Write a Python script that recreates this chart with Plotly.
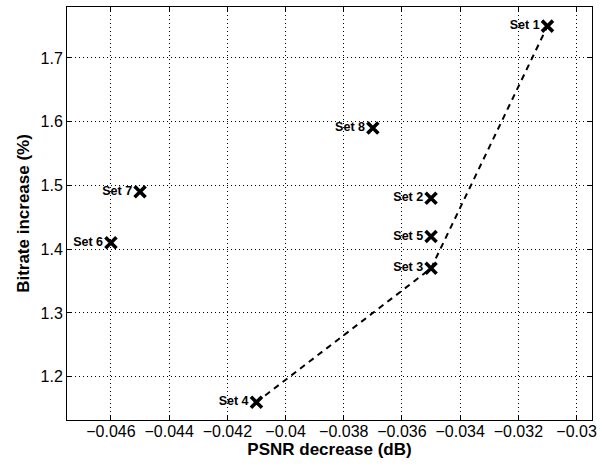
import plotly.graph_objects as go

labels = ["Set 1", "Set 2", "Set 3", "Set 4", "Set 5", "Set 6", "Set 7", "Set 8"]
psnr = [-0.031, -0.035, -0.035, -0.041, -0.035, -0.046, -0.045, -0.037]
bitrate = [1.75, 1.48, 1.37, 1.16, 1.42, 1.41, 1.49, 1.59]

front_x = [-0.041, -0.035, -0.031]
front_y = [1.16, 1.37, 1.75]

x_ticks = [-0.046, -0.044, -0.042, -0.04, -0.038, -0.036, -0.034, -0.032, -0.03]
x_ticktext = ["\u22120.046", "\u22120.044", "\u22120.042", "\u22120.04", "\u22120.038",
              "\u22120.036", "\u22120.034", "\u22120.032", "\u22120.03"]
y_ticks = [1.2, 1.3, 1.4, 1.5, 1.6, 1.7]
y_ticktext = ["1.2", "1.3", "1.4", "1.5", "1.6", "1.7"]

FONT = "Liberation Sans, Arial, Helvetica"

fig = go.Figure()
fig.add_trace(go.Scatter(x=front_x, y=front_y, mode="lines",
                         line=dict(color="black", width=2, dash="6px,5px"),
                         showlegend=False, hoverinfo="skip"))
fig.add_trace(go.Scatter(x=psnr, y=bitrate, mode="markers+text",
                         text=["<b>%s</b>" % t for t in labels],
                         textposition="middle left",
                         textfont=dict(family=FONT, size=12.5, color="black"),
                         marker=dict(symbol="x-thin", size=11, line=dict(color="black", width=3.6)),
                         showlegend=False))

axis_common = dict(showline=True, linecolor="black", linewidth=1, mirror="ticks",
                   ticks="inside", ticklen=5, tickcolor="black",
                   showgrid=True, gridcolor="black", gridwidth=1, griddash="1px,3px",
                   zeroline=False, automargin=False,
                   tickfont=dict(family=FONT, size=16, color="black"))

fig.update_xaxes(range=[-0.04751, -0.02947], tickvals=x_ticks, ticktext=x_ticktext,
                 ticklabelstandoff=-3,
                 title=dict(text="<b>PSNR decrease (dB)</b>", standoff=0,
                            font=dict(family=FONT, size=17, color="black")),
                 **axis_common)
fig.update_yaxes(range=[1.132, 1.78], tickvals=y_ticks, ticktext=y_ticktext,
                 title=dict(text="<b>Bitrate increase (%)</b>", standoff=6,
                            font=dict(family=FONT, size=17, color="black")),
                 **axis_common)

fig.update_layout(width=602, height=470, margin=dict(l=67, r=10, t=7, b=50),
                  paper_bgcolor="white", plot_bgcolor="white")
fig.write_html("out.html", config={"displayModeBar": False},
               post_script="document.body.style.margin='0px';")
